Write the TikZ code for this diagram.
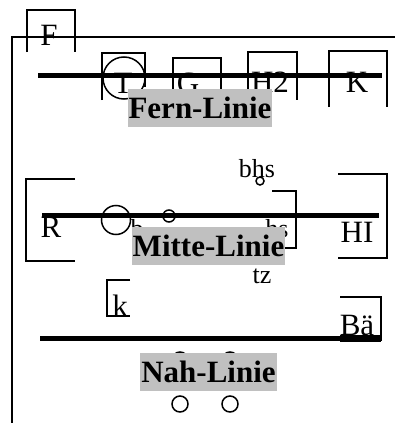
\documentclass[tikz,border=0pt]{standalone}
\usepackage{fontspec}
\setmainfont{Liberation Serif}
\usepackage{tikz}
\usetikzlibrary{positioning}

\begin{document}
\begin{tikzpicture}[
  x=1pt, y=-1pt,
  lbl/.style={anchor=base, inner sep=0pt, font=\fontsize{31}{31}\selectfont},
  small/.style={anchor=base, inner sep=0pt, font=\fontsize{26}{26}\selectfont},
  linie/.style={fill={rgb,255:red,192;green,192;blue,192}, inner xsep=1pt, inner ysep=0pt,
                minimum height=38pt, font=\bfseries\fontsize{31}{31}\selectfont},
  rail/.style={line width=5pt},
  frame/.style={line width=1.5pt},
  ring/.style={circle, draw, line width=1.5pt, inner sep=0pt}
]
\useasboundingbox (0,0) rectangle (395,423);

% outer frame and F
\draw[frame] (12,423) -- (12,37) -- (395,37);
\draw[frame] (27,52) -- (27,10) -- (75,10) -- (75,52);
\node[lbl] (f) at (49,45) {F};

% Fern section
\node[lbl] (t) at (123,93) {T};
\node[lbl] (g) at (188,93) {G};
\node[lbl] (h2) at (270,92) {H2};
\node[lbl] (k1) at (357,92) {K};
\node[ring, minimum size=42pt] (tring) at (124,78) {};
\draw[frame] (102,100) -- (102,53) -- (145,53) -- (145,87);
\draw[frame] (173,95) -- (173,58) -- (221,58) -- (221,95);
\draw[frame] (248,95) -- (248,52) -- (297,52) -- (297,100);
\draw[frame] (329,107) -- (329,51) -- (387,51) -- (387,107);
\coordinate (fa) at (38,75);
\coordinate (fb) at (382,75);
\draw[rail] (fa) -- (fb);
\node[linie] (fern) at (200,108) {Fern-Linie};

% Mitte section
\node[lbl] (r) at (51,237) {R};
\node[small] (b) at (137,237) {b};
\node[small] (bhs) at (257,177) {bhs};
\node[small] (hs) at (277,237) {hs};
\node[lbl] (hi) at (357,242) {HI};
\node[small] (tz) at (262,283) {tz};
\node[ring, minimum size=29pt] (mring) at (116,220) {};
\node[ring, minimum size=12pt] (sring) at (169,216) {};
\node[ring, minimum size=8pt] (hring) at (260,181) {};
\draw[frame] (75,179) -- (26,179) -- (26,261) -- (75,261);
\draw[frame] (272,191) -- (296,191) -- (296,248) -- (275,248);
\draw[frame] (338,174) -- (387,174) -- (387,258) -- (338,258);
\coordinate (ma) at (42,215);
\coordinate (mb) at (379,215);
\draw[rail] (ma) -- (mb);
\node[linie] (mitte) at (208.5,246) {Mitte-Linie};

% Nah section
\node[lbl] (k2) at (120,316) {k};
\node[lbl] (ba) at (357,335) {Bä};
\draw[frame] (130,280) -- (107,280) -- (107,316) -- (130,316);
\draw[frame] (340,297) -- (381,297) -- (381,338);
\coordinate (na) at (40,338);
\coordinate (nb) at (382,338);
\draw[rail] (na) -- (nb);
\draw[line width=7pt] (340,338) -- (381,338);
\node[ring, minimum size=16pt] (n1) at (180,360) {};
\node[ring, minimum size=16pt] (n2) at (230,360) {};
\node[ring, minimum size=16pt] (n3) at (180,404) {};
\node[ring, minimum size=16pt] (n4) at (230,404) {};
\node[linie] (nah) at (208.5,372) {Nah-Linie};

\end{tikzpicture}
\end{document}
